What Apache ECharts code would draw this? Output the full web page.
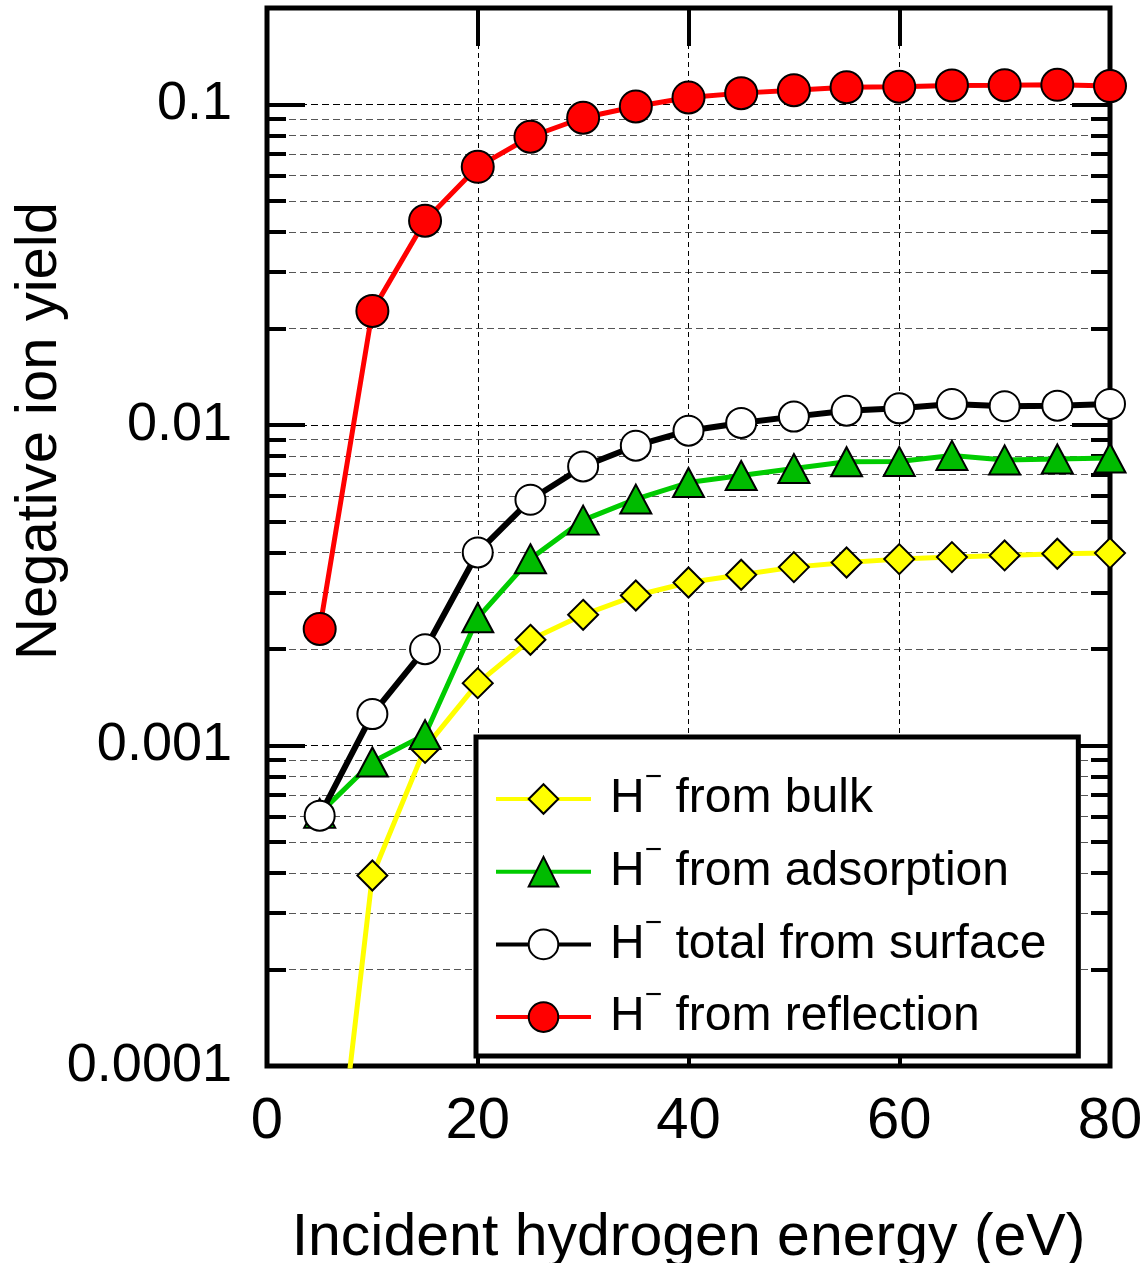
<!DOCTYPE html>
<html>
<head>
<meta charset="utf-8">
<script src="https://cdn.jsdelivr.net/npm/echarts@6/dist/echarts.min.js"></script>
<style>
html,body{margin:0;padding:0;background:#fff;}
#chart{width:1145px;height:1263px;}
</style>
</head>
<body>
<div id="chart"></div>
<script>
// ---- data ----
const energies = [5, 10, 15, 20, 25, 30, 35, 40, 45, 50, 55, 60, 65, 70, 75, 80];
const bulkYield = [0.000015, 0.000393, 0.000983, 0.001565, 0.002137, 0.002557, 0.002938, 0.003226,
                   0.003409, 0.003602, 0.003724, 0.003815, 0.003871, 0.003917, 0.003965, 0.003984];
const adsorptionYield = [0.000614, 0.000888, 0.001081, 0.002503, 0.003824, 0.005049, 0.005873, 0.006614,
                         0.006956, 0.007313, 0.00768, 0.007696, 0.008035, 0.00778, 0.007835, 0.00789];
const surfaceYield = [0.000604, 0.001253, 0.001997, 0.004002, 0.005844, 0.007425, 0.008617, 0.009598,
                      0.01015, 0.01062, 0.01108, 0.01127, 0.01163, 0.01144, 0.01149, 0.01163];
const reflectionYield = [0.00231, 0.0227, 0.0434, 0.0639, 0.0793, 0.0909, 0.0986, 0.1052,
                         0.1085, 0.1108, 0.1132, 0.1136, 0.1147, 0.1149, 0.1152, 0.1141];
const seriesNames = ['H⁻ from bulk', 'H⁻ from adsorption', 'H⁻ total from surface', 'H⁻ from reflection'];
const xTicks = [0, 20, 40, 60, 80];
const xTickLabels = ['0', '20', '40', '60', '80'];
const yMajorTicks = [0.0001, 0.001, 0.01, 0.1];
const yTickLabels = ['0.0001', '0.001', '0.01', '0.1'];
const yMinorTicks = [0.0002, 0.0003, 0.0004, 0.0005, 0.0006, 0.0007, 0.0008, 0.0009,
                     0.002, 0.003, 0.004, 0.005, 0.006, 0.007, 0.008, 0.009,
                     0.02, 0.03, 0.04, 0.05, 0.06, 0.07, 0.08, 0.09];
const xTitle = 'Incident hydrogen energy (eV)';
const yTitle = 'Negative ion yield';

function pairs(ys) { return energies.map((x, i) => [x, ys[i]]); }
function yLabel(v) {
  const i = yMajorTicks.findIndex(t => Math.abs(Math.log10(v / t)) < 0.01);
  return i >= 0 ? yTickLabels[i] : '';
}
function xLabel(v) {
  const i = xTicks.indexOf(Math.round(v));
  return i >= 0 ? xTickLabels[i] : '';
}

const chart = echarts.init(document.getElementById('chart'), null, {renderer: 'canvas'});

const logRange = {type: 'log', logBase: 10, min: 0.0001, max: 0.2, gridIndex: 0, axisLine: {show: false}};
const tickStyle = {width: 4, color: '#000'};

const option = {
  animation: false,
  backgroundColor: '#fff',
  grid: {
    left: 267, right: 35, top: 8, bottom: 197,
    containLabel: false, outerBoundsMode: 'none',
    show: true, borderColor: '#000', borderWidth: 5, backgroundColor: 'transparent'
  },
  xAxis: [
    {
      type: 'value', position: 'bottom', min: 0, max: 80, interval: 20,
      axisLine: {show: false},
      axisTick: {inside: true, length: 38, lineStyle: tickStyle},
      axisLabel: {margin: 27, fontSize: 58, fontFamily: 'Liberation Sans', color: '#000', formatter: xLabel},
      splitLine: {show: true, lineStyle: {type: [5, 4], color: '#000', width: 1}},
      name: xTitle, nameLocation: 'middle', nameGap: 143,
      nameTextStyle: {fontSize: 59, fontFamily: 'Liberation Sans', color: '#000'}
    },
    {
      type: 'value', position: 'top', min: 0, max: 80, interval: 20,
      axisLine: {show: false},
      axisTick: {inside: true, length: 38, lineStyle: tickStyle},
      axisLabel: {show: false},
      splitLine: {show: false}
    }
  ],
  yAxis: [
    Object.assign({}, logRange, {
      position: 'left',
      axisTick: {customValues: yMajorTicks, inside: true, length: 38, lineStyle: tickStyle},
      axisLabel: {customValues: yMajorTicks, margin: 35, fontSize: 54, fontFamily: 'Liberation Sans', color: '#000', formatter: yLabel},
      splitLine: {show: true, lineStyle: {type: [7, 4], color: '#000', width: 1}}
    }),
    Object.assign({}, logRange, {
      position: 'left',
      axisTick: {customValues: yMinorTicks, inside: true, length: 19, lineStyle: tickStyle},
      axisLabel: {show: false},
      splitLine: {show: true, lineStyle: {type: [7, 4], color: '#555', width: 1}}
    }),
    Object.assign({}, logRange, {
      position: 'right',
      axisTick: {customValues: yMajorTicks, inside: true, length: 38, lineStyle: tickStyle},
      axisLabel: {show: false},
      splitLine: {show: false}
    }),
    Object.assign({}, logRange, {
      position: 'right',
      axisTick: {customValues: yMinorTicks, inside: true, length: 19, lineStyle: tickStyle},
      axisLabel: {show: false},
      splitLine: {show: false}
    })
  ],
  legend: {
    orient: 'vertical', left: 476, top: 737,
    padding: [26, 32, 15, 18],
    itemWidth: 95, itemHeight: 37, itemGap: 12.7,
    backgroundColor: '#fff', borderColor: '#000', borderWidth: 5, borderRadius: 0,
    selectedMode: false,
    data: seriesNames,
    lineStyle: {width: 4},
    formatter: function (name) {
      return '{a|H}{b|−}{a| ' + name.replace('H⁻ ', '') + '}';
    },
    textStyle: {
      padding: [0, 0, 0, 14], width: 440,
      rich: {
        a: {fontSize: 48, fontFamily: 'Liberation Sans', color: '#000', lineHeight: 72},
        b: {fontSize: 30, fontFamily: 'Liberation Sans', color: '#000', lineHeight: 2, verticalAlign: 'top'}
      }
    }
  },
  graphic: [
    {
      type: 'text', x: 40, y: 431, rotation: Math.PI / 2, silent: true,
      style: {text: yTitle, font: '58px "Liberation Sans"', fill: '#000', align: 'center', verticalAlign: 'middle'}
    }
  ],
  series: [
    {
      name: seriesNames[0], type: 'line', xAxisIndex: 0, yAxisIndex: 0, data: pairs(bulkYield),
      smooth: false,
      symbol: 'diamond', symbolSize: [30, 30],
      lineStyle: {color: '#FFFF00', width: 5},
      itemStyle: {color: '#FFFF00', borderColor: '#000', borderWidth: 2}
    },
    {
      name: seriesNames[1], type: 'line', xAxisIndex: 0, yAxisIndex: 0, data: pairs(adsorptionYield),
      smooth: false,
      symbol: 'triangle', symbolSize: [31, 29],
      lineStyle: {color: '#00CC00', width: 5},
      itemStyle: {color: '#00BB00', borderColor: '#000', borderWidth: 2}
    },
    {
      name: seriesNames[2], type: 'line', xAxisIndex: 0, yAxisIndex: 0, data: pairs(surfaceYield),
      smooth: false,
      symbol: 'circle', symbolSize: 30,
      lineStyle: {color: '#000', width: 6},
      itemStyle: {color: '#FFFFFF', borderColor: '#000', borderWidth: 2}
    },
    {
      name: seriesNames[3], type: 'line', xAxisIndex: 0, yAxisIndex: 0, data: pairs(reflectionYield),
      smooth: false,
      symbol: 'circle', symbolSize: 32,
      lineStyle: {color: '#FF0000', width: 5},
      itemStyle: {color: '#FF0000', borderColor: '#000', borderWidth: 2}
    }
  ]
};
chart.setOption(option);
</script>
</body>
</html>
